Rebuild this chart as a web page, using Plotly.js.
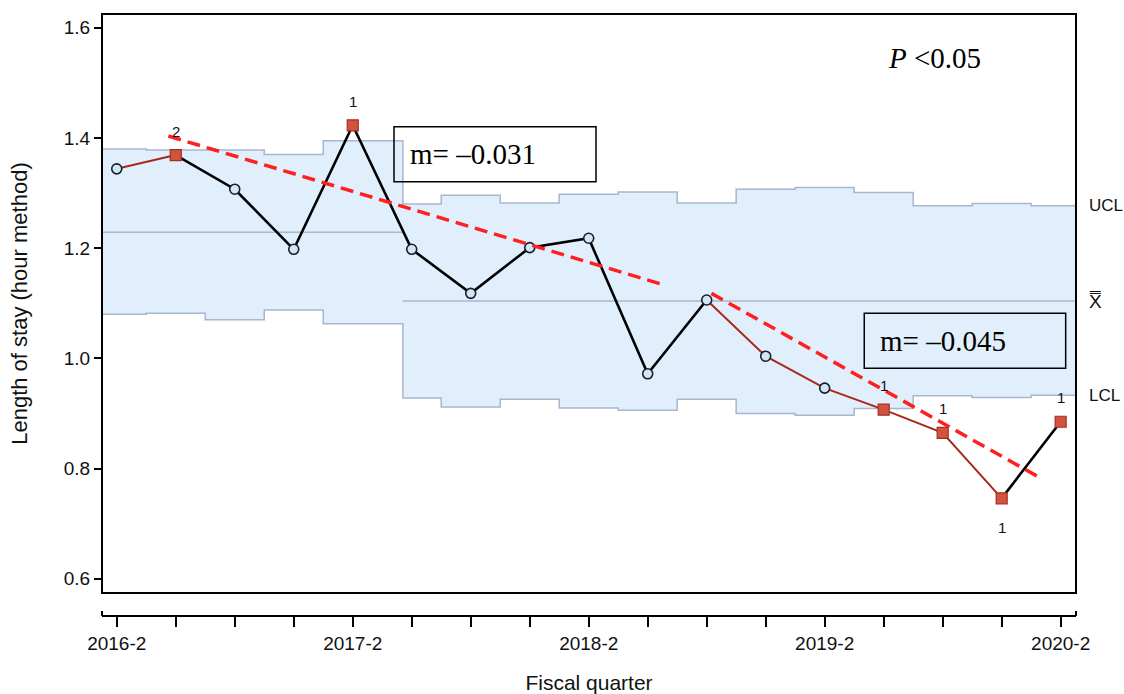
<!DOCTYPE html>
<html>
<head>
<meta charset="utf-8">
<script src="https://cdn.plot.ly/plotly-3.0.1.min.js"></script>
<style>html,body{margin:0;padding:0;background:#fff;}#chart{width:1124px;height:694px;}</style>
</head>
<body>
<div id="chart"></div>
<script>
// ---- data ----
const quarters = ['2016-2','2016-3','2016-4','2017-1','2017-2','2017-3','2017-4','2018-1','2018-2',
                  '2018-3','2018-4','2019-1','2019-2','2019-3','2019-4','2020-1','2020-2'];
const stayHours = [1.344, 1.369, 1.307, 1.198, 1.423, 1.198, 1.118, 1.201, 1.218,
                   0.972, 1.106, 1.004, 0.946, 0.907, 0.865, 0.746, 0.885];
const stage = [1,1,1,1,1, 2,2,2,2,2,2,2,2,2,2,2,2];
const stageMean = {1: 1.229, 2: 1.104};
const ucl = [1.380, 1.378, 1.378, 1.370, 1.395, 1.280, 1.296, 1.282, 1.298,
             1.302, 1.282, 1.307, 1.310, 1.301, 1.277, 1.281, 1.277];
const lcl = [1.080, 1.082, 1.070, 1.088, 1.063, 0.928, 0.912, 0.926, 0.910,
             0.906, 0.926, 0.900, 0.897, 0.909, 0.932, 0.929, 0.933];
const testLabels = ['', '2', '', '', '1', '', '', '', '', '', '', '', '', '1', '1', '1', '1'];
const labelBelow = [15];
const redSegmentStarts = [0, 10, 11, 12, 13, 14];
const trend1X = [0.875, 9.25], trend1Y = [1.4035, 1.1343];
const trend2X = [10.08, 15.64], trend2Y = [1.118, 0.784];
const slopeLabels = ['m= \u20130.031', 'm= \u20130.045'];
const pLabel = '<i>P</i> &lt;0.05';

// ---- layout constants ----
const X0 = -0.25, X1 = 16.26, STAGE_BREAK = 4.85;
const n = stayHours.length;
const idx = stayHours.map((_, i) => i);

function leftEdge(i) { return i === 0 ? X0 : (stage[i] !== stage[i-1] ? STAGE_BREAK : i - 0.5); }
function rightEdge(i) { return i === n-1 ? X1 : (stage[i] !== stage[i+1] ? STAGE_BREAK : i + 0.5); }

// band polygon
const bx = [], by = [];
for (let i = 0; i < n; i++) { bx.push(leftEdge(i), rightEdge(i)); by.push(ucl[i], ucl[i]); }
for (let i = n-1; i >= 0; i--) { bx.push(rightEdge(i), leftEdge(i)); by.push(lcl[i], lcl[i]); }
bx.push(bx[0]); by.push(by[0]);

const traces = [];
traces.push({x: bx, y: by, type: 'scatter', mode: 'lines', fill: 'toself',
  fillcolor: '#e1effc', line: {color: '#a8b6ce', width: 1.5}, hoverinfo: 'skip', showlegend: false});

// center lines per stage
const cx = [], cy = [];
[1, 2].forEach(s => {
  const members = idx.filter(i => stage[i] === s);
  cx.push(leftEdge(members[0]), rightEdge(members[members.length-1]), null);
  cy.push(stageMean[s], stageMean[s], null);
});
traces.push({x: cx, y: cy, type: 'scatter', mode: 'lines', line: {color: '#a8b6ce', width: 1.5},
  hoverinfo: 'skip', showlegend: false});

// data line segments grouped into coloured runs
let runStart = 0;
for (let i = 0; i < n - 1; i++) {
  const red = redSegmentStarts.includes(i);
  const nextRed = i + 1 < n - 1 ? redSegmentStarts.includes(i + 1) : null;
  if (i === n - 2 || nextRed !== red) {
    const xs = [], ys = [];
    for (let k = runStart; k <= i + 1; k++) { xs.push(k); ys.push(stayHours[k]); }
    traces.push({x: xs, y: ys, type: 'scatter', mode: 'lines',
      line: red ? {color: '#a8281a', width: 2} : {color: '#000000', width: 2.6},
      hoverinfo: 'skip', showlegend: false});
    runStart = i + 1;
  }
}

// markers
const normalIdx = idx.filter(i => !testLabels[i]);
const flagIdx = idx.filter(i => testLabels[i]);
traces.push({x: normalIdx, y: normalIdx.map(i => stayHours[i]), type: 'scatter', mode: 'markers',
  marker: {symbol: 'circle', size: 10, color: '#d3e6f6', line: {color: '#15202c', width: 1.6}},
  showlegend: false});
traces.push({x: flagIdx, y: flagIdx.map(i => stayHours[i]), type: 'scatter', mode: 'markers',
  marker: {symbol: 'square', size: 11, color: '#d2533f', line: {color: '#a3301f', width: 1.2}},
  showlegend: false});

// trend lines
[[trend1X, trend1Y], [trend2X, trend2Y]].forEach(([tx, ty]) => {
  traces.push({x: tx, y: ty, type: 'scatter', mode: 'lines',
    line: {color: '#ff1f1f', width: 3.5, dash: '13px,7px'}, hoverinfo: 'skip', showlegend: false});
});

const labelFont = {family: 'Liberation Sans, Arial, sans-serif', size: 15, color: '#111'};
const annotations = flagIdx.map(i => ({
  x: i, y: stayHours[i], xref: 'x', yref: 'y', text: testLabels[i], showarrow: false,
  yshift: labelBelow.includes(i) ? -29 : 24, font: labelFont
}));

const sideFont = {family: 'Liberation Sans, Arial, sans-serif', size: 17, color: '#111'};
annotations.push({xref: 'paper', yref: 'y', x: 1.0115, y: ucl[n-1], xanchor: 'left', text: 'UCL', showarrow: false, font: sideFont});
annotations.push({xref: 'paper', yref: 'y', x: 1.0115, y: stageMean[stage[n-1]], xanchor: 'left', text: 'X\u033F', showarrow: false, font: {family: sideFont.family, size: 19, color: '#111'}});
annotations.push({xref: 'paper', yref: 'y', x: 1.0115, y: lcl[n-1], xanchor: 'left', text: 'LCL', showarrow: false, font: sideFont});

const serif = {family: 'Liberation Serif, Times New Roman, serif', size: 29, color: '#000'};
annotations.push({xref: 'paper', yref: 'paper', x: 0.3138, y: 0.767, xanchor: 'left', yanchor: 'middle', text: slopeLabels[0], showarrow: false, font: serif});
annotations.push({xref: 'paper', yref: 'paper', x: 0.7967, y: 0.4565, xanchor: 'left', yanchor: 'middle', text: slopeLabels[1], showarrow: false, font: serif});
annotations.push({xref: 'paper', yref: 'paper', x: 0.8543, y: 0.927, xanchor: 'center', yanchor: 'middle', text: pLabel, showarrow: false, font: serif});

const shapes = [
  {type: 'rect', xref: 'x domain', yref: 'y domain', x0: 0, x1: 1, y0: 0, y1: 1, line: {color: '#000', width: 2}},
  {type: 'line', xref: 'paper', yref: 'paper', x0: 0, x1: 0, ysizemode: 'pixel', yanchor: 0, y0: 0, y1: 5, line: {color: '#000', width: 2}},
  {type: 'line', xref: 'paper', yref: 'paper', x0: 1, x1: 1, ysizemode: 'pixel', yanchor: 0, y0: 0, y1: 5, line: {color: '#000', width: 2}},
  {type: 'rect', xref: 'paper', yref: 'paper', x0: 0.2998, x1: 0.5072, y0: 0.7214, y1: 0.8128, line: {color: '#000', width: 1.5}},
  {type: 'rect', xref: 'paper', yref: 'paper', x0: 0.7826, x1: 0.9894, y0: 0.4115, y1: 0.5028, line: {color: '#000', width: 1.5}}
];

const tickFont = {family: 'Liberation Sans, Arial, sans-serif', size: 19, color: '#111'};
const titleFont = {family: 'Liberation Sans, Arial, sans-serif', size: 21, color: '#111'};

const layout = {
  width: 1124, height: 694,
  margin: {l: 102, r: 48, t: 14, b: 78},
  paper_bgcolor: '#fff', plot_bgcolor: '#fff',
  showlegend: false,
  xaxis: {
    range: [X0, X1], anchor: 'free', position: 0,
    tickvals: idx, ticktext: quarters.map((q, i) => i % 4 === 0 ? q : ''),
    ticks: 'outside', ticklen: 10, tickwidth: 2, tickcolor: '#000',
    showline: true, linecolor: '#000', linewidth: 2, showgrid: false, zeroline: false,
    tickfont: tickFont,
    title: {text: 'Fiscal quarter', font: titleFont, standoff: 23}
  },
  yaxis: {
    domain: [0.038, 1], range: [0.574, 1.625],
    tickvals: [0.6, 0.8, 1.0, 1.2, 1.4, 1.6], tickformat: '.1f',
    ticks: 'outside', ticklen: 7, tickwidth: 2, tickcolor: '#000',
    showline: false, showgrid: false, zeroline: false,
    tickfont: tickFont,
    title: {text: 'Length of stay (hour method)', font: {family: titleFont.family, size: 22, color: '#111'}, standoff: 30}
  },
  shapes: shapes,
  annotations: annotations
};

Plotly.newPlot('chart', traces, layout, {displayModeBar: false, staticPlot: true});
</script>
</body>
</html>
